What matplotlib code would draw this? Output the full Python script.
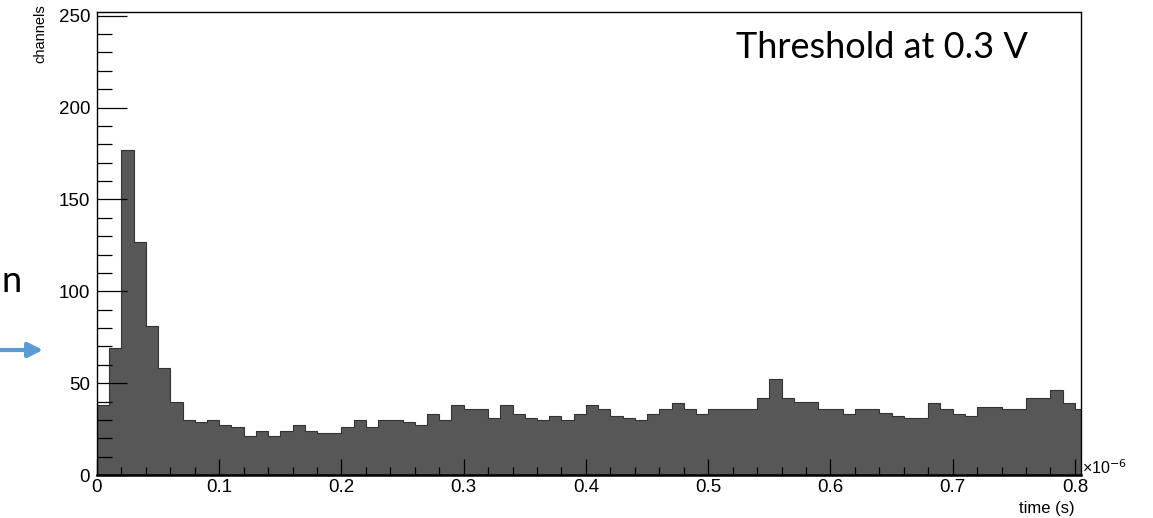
import numpy as np
import matplotlib
matplotlib.use("Agg")
import matplotlib.pyplot as plt
from matplotlib.ticker import MultipleLocator

# ---- data (time in units of 1e-6 s, bin width 0.01) ----
bin_width = 0.01
counts = [38, 69, 177, 127, 81, 58, 40, 30, 29, 30,
          27, 26, 21, 24, 21, 24, 27, 24, 23, 23,
          26, 30, 26, 30, 30, 29, 27, 33, 30, 38,
          36, 36, 31, 38, 33, 31, 30, 32, 30, 33,
          38, 36, 32, 31, 30, 33, 36, 39, 36, 33,
          36, 36, 36, 36, 42, 52, 42, 40, 40, 36,
          36, 33, 36, 36, 34, 32, 31, 31, 39, 36,
          33, 32, 37, 37, 36, 36, 42, 42, 46, 39,
          36]
x_ticks = [0, 0.1, 0.2, 0.3, 0.4, 0.5, 0.6, 0.7, 0.8]
x_tick_labels = ["0", "0.1", "0.2", "0.3", "0.4", "0.5", "0.6", "0.7", "0.8"]
y_ticks = [0, 50, 100, 150, 200, 250]
y_tick_labels = ["0", "50", "100", "150", "200", "250"]

edges = np.arange(len(counts) + 1) * bin_width

W, H = 1153, 518
fig = plt.figure(figsize=(W / 100, H / 100), dpi=100)
plt.rcParams['font.family'] = ['Liberation Sans', 'DejaVu Sans']

ax = fig.add_axes([97 / W, 43 / H, 984 / W, 463 / H])
ax.stairs(counts, edges, fill=True, color='#575757', linewidth=0)
ax.stairs(counts, edges, color='#333333', linewidth=0.8)

ax.set_xlim(0, 0.805)
ax.set_ylim(0, 252)

ax.set_xticks(x_ticks)
ax.set_xticklabels(x_tick_labels, fontsize=13.5)
ax.set_yticks(y_ticks)
ax.set_yticklabels(y_tick_labels, fontsize=13.5)
ax.xaxis.set_minor_locator(MultipleLocator(0.02))
ax.yaxis.set_minor_locator(MultipleLocator(10))

ax.tick_params(axis='x', which='major', direction='in', length=11.5, width=0.9,
               pad=3, color='black', top=False)
ax.tick_params(axis='x', which='minor', direction='in', length=6, width=0.9,
               color='black', top=False)
ax.tick_params(axis='y', which='major', direction='in', length=21.5, width=0.9,
               pad=5, color='black', right=False)
ax.tick_params(axis='y', which='minor', direction='in', length=10.5, width=0.9,
               color='black', right=False)
for s in ax.spines.values():
    s.set_linewidth(1.0)
    s.set_color('black')
ax.spines['bottom'].set_linewidth(1.8)

# axis titles
fig.text(1075 / W, 1 - 508 / H, "time (s)", ha='right', va='center', fontsize=12)
fig.text(40 / W, 1 - 4 / H, "channels", ha='center', va='top', rotation=90, fontsize=10.5)
fig.text(1082 / W, 1 - 468 / H, "\u00d710$^{-6}$", ha='left', va='center', fontsize=11.5)

# annotation text
fig.text(882 / W, 1 - 47 / H, "Threshold at 0.3 V", ha='center', va='center',
         fontsize=26, family=['Lato', 'DejaVu Sans'])
fig.text(1 / W, 1 - 292 / H, "n", ha='left', va='baseline',
         fontsize=26, family=['Lato', 'DejaVu Sans'])

# blue arrow on the left
ax.annotate('', xy=(43 / W, 1 - 350 / H), xytext=(0, 1 - 350 / H),
            xycoords='figure fraction', textcoords='figure fraction',
            arrowprops=dict(arrowstyle='-|>', color='#5b9bd5', lw=3,
                            mutation_scale=22, shrinkA=0, shrinkB=0))

fig.savefig("out.png", dpi=100)
